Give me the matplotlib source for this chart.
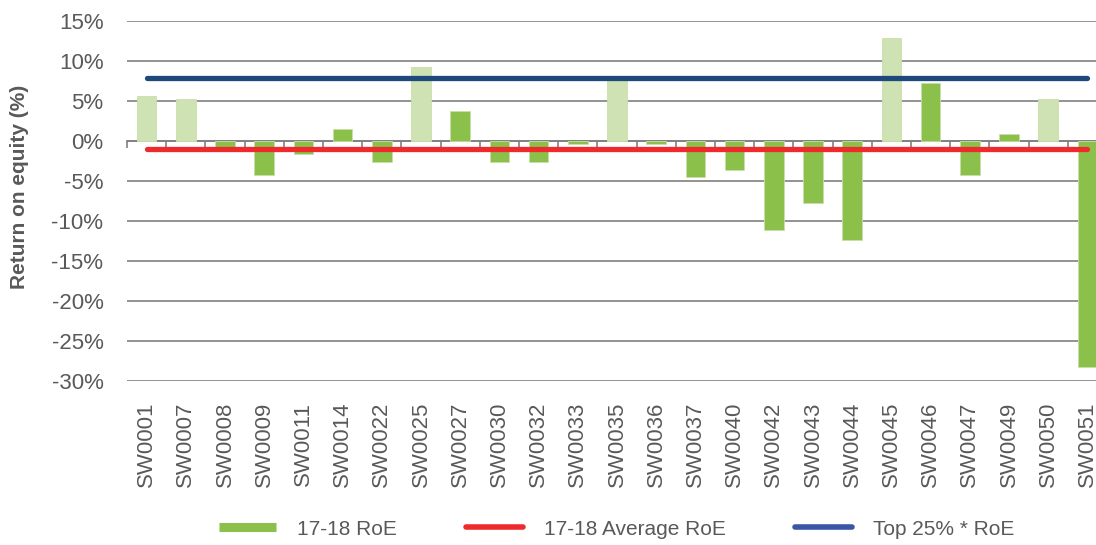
import matplotlib
matplotlib.use("Agg")
import matplotlib.pyplot as plt
from matplotlib.lines import Line2D
from matplotlib.ticker import FuncFormatter, FixedLocator

plt.rcParams['font.family'] = ['Liberation Sans', 'DejaVu Sans']

# ---- data ----
companies = ["SW0001", "SW0007", "SW0008", "SW0009", "SW0011", "SW0014", "SW0022",
             "SW0025", "SW0027", "SW0030", "SW0032", "SW0033", "SW0035", "SW0036",
             "SW0037", "SW0040", "SW0042", "SW0043", "SW0044", "SW0045", "SW0046",
             "SW0047", "SW0049", "SW0050", "SW0051"]
roe = [5.6, 5.3, -1.0, -4.2, -1.6, 1.5, -2.6,
       9.2, 3.7, -2.6, -2.6, -0.4, 7.8, -0.4,
       -4.5, -3.6, -11.1, -7.7, -12.4, 12.9, 7.2,
       -4.2, 0.9, 5.3, -28.3]
highlight = [True, True, False, False, False, False, False,
             True, False, False, False, False, True, False,
             False, False, False, False, False, True, False,
             False, False, True, False]
avg_roe = -0.95
top25_roe = 7.9
yticks = [15, 10, 5, 0, -5, -10, -15, -20, -25, -30]
legend_labels = ["17-18 RoE", "17-18 Average RoE", "Top 25% * RoE"]

# ---- style ----
green = "#8BC14A"
light_green = "#CFE2B3"
red = "#EE2A2D"
blue = "#1F497D"
legend_blue = "#3A56A5"
grid_c = "#808080"
text_c = "#595959"

fig = plt.figure(figsize=(10.96, 5.45), dpi=100)
ax = fig.add_axes([127 / 1096, 164 / 545, 980 / 1096, 360 / 545])

x = list(range(len(companies)))
colors = [light_green if h else green for h in highlight]
ax.bar(x, roe, width=0.5, color=colors, edgecolor="#C8E0A8", linewidth=0.6, zorder=2)

ax.plot([x[0], x[-1]], [avg_roe, avg_roe], color=red, lw=3.8,
        solid_capstyle="round", zorder=4)
ax.plot([x[0], x[-1]], [top25_roe, top25_roe], color=blue, lw=3.8,
        solid_capstyle="round", zorder=4)

ax.set_xlim(-0.5, len(companies) - 0.5)
ax.set_ylim(min(yticks), max(yticks))
ax.set_yticks(yticks)
ax.yaxis.set_major_formatter(FuncFormatter(lambda v, p: f"{v:.0f}%"))
ax.yaxis.grid(True, color=grid_c, lw=1.2, zorder=0)
ax.set_axisbelow(True)

for s in ["left", "right", "bottom"]:
    ax.spines[s].set_visible(False)
ax.spines["top"].set_position(("data", 0))
ax.spines["top"].set_color(grid_c)
ax.spines["top"].set_linewidth(1.2)
ax.spines["top"].set_zorder(1)

ax.set_xticks(x)
ax.set_xticklabels(companies, rotation=90, va="top", ha="center")
ax.xaxis.set_minor_locator(FixedLocator([i - 0.5 for i in range(len(companies) + 1)]))
ax.tick_params(axis="x", which="major", bottom=True, top=False, length=0, pad=15,
               labelsize=16, labelcolor=text_c)
ax.tick_params(axis="x", which="minor", bottom=False, top=True, direction="in",
               length=5, width=1.2, color=grid_c)
ax.tick_params(axis="y", length=0, pad=17, labelsize=16, labelcolor=text_c)

ax.set_ylabel("Return on equity (%)", fontsize=15, fontweight="bold", color=text_c)
ax.yaxis.set_label_coords(-0.100, 0.540)

handles = [
    Line2D([0], [0], color=green, lw=6.5, solid_capstyle="butt"),
    Line2D([0], [0], color=red, lw=4.0, solid_capstyle="round"),
    Line2D([0], [0], color=legend_blue, lw=4.0, solid_capstyle="round"),
]
leg = fig.legend(handles, legend_labels, loc="center", bbox_to_anchor=(0.5625, 0.029),
                 ncol=3, frameon=False, fontsize=15, handlelength=2.75,
                 handletextpad=1.0, columnspacing=3.3, labelcolor=text_c)

fig.savefig("out.png", dpi=100)
